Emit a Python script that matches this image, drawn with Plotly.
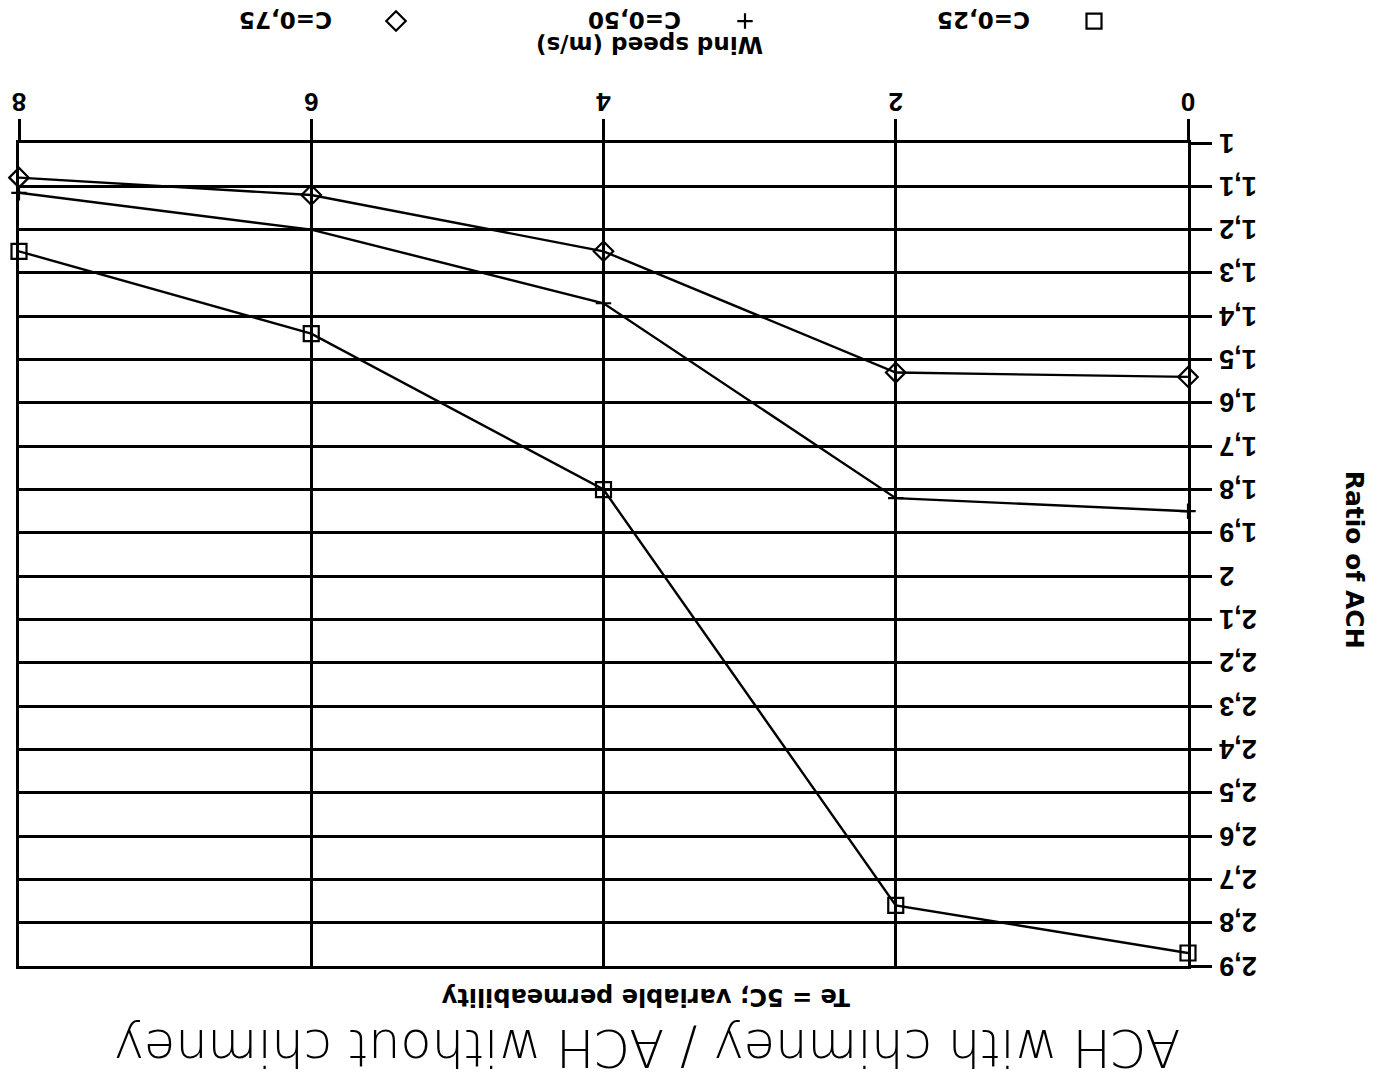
import plotly.graph_objects as go

# ---- data ----
wind_speed = [0, 2, 4, 6, 8]
ratio_c025 = [2.87, 2.76, 1.80, 1.44, 1.25]
ratio_c050 = [1.85, 1.82, 1.37, 1.20, 1.115]
ratio_c075 = [1.54, 1.53, 1.25, 1.12, 1.08]
series_names = ["C=0,25", "C=0,50", "C=0,75"]

x_ticks = [0, 2, 4, 6, 8]
y_tickvals = [1.0, 1.1, 1.2, 1.3, 1.4, 1.5, 1.6, 1.7, 1.8, 1.9, 2.0,
              2.1, 2.2, 2.3, 2.4, 2.5, 2.6, 2.7, 2.8, 2.9]
y_ticktext = ["1", "1,1", "1,2", "1,3", "1,4", "1,5", "1,6", "1,7", "1,8", "1,9", "2",
              "2,1", "2,2", "2,3", "2,4", "2,5", "2,6", "2,7", "2,8", "2,9"]

title_text = "ACH with chimney / ACH without chimney"
subtitle_text = "Te = 5C; variable permeability"
x_title = "Wind speed (m/s)"
y_title = "Ratio of ACH"

BOLD = "DejaVu Sans"
TICKF = "Liberation Sans"

fig = go.Figure()

symbols = [
    dict(symbol="square-open", size=15, line=dict(width=2.2, color="black")),
    dict(symbol="cross-thin-open", size=11, line=dict(width=2.2, color="black")),
    dict(symbol="diamond-open", size=15, line=dict(width=2.2, color="black")),
]
series = [ratio_c025, ratio_c050, ratio_c075]

for name, ys, sym in zip(series_names, series, symbols):
    fig.add_trace(go.Scatter(
        x=wind_speed, y=ys, mode="lines+markers", name=name,
        line=dict(color="black", width=2.4),
        marker=dict(color="black", **sym),
        cliponaxis=False, showlegend=False,
    ))
    # legend-only entry (symbol without line)
    fig.add_trace(go.Scatter(
        x=[None], y=[None], mode="markers", name=name,
        marker=dict(color="black", **sym), showlegend=True,
    ))

fig.update_layout(
    width=1378, height=1077,
    margin=dict(l=190, r=17, t=111, b=143, pad=0),
    paper_bgcolor="white", plot_bgcolor="white",
    separators=",.",
    title=dict(text=title_text, x=731 / 1378, xref="container", xanchor="center",
               y=1 - 29 / 1077, yref="container", yanchor="middle",
               font=dict(family="DejaVu Sans", size=51, color="black", weight=200)),
    legend=dict(orientation="h", xref="container", yref="container",
                x=220 / 1378, xanchor="left", y=1 - 1056 / 1077, yanchor="middle",
                itemwidth=118, entrywidth=216, entrywidthmode="pixels",
                font=dict(family=BOLD, size=23, color="black", weight="bold"),
                bgcolor="rgba(0,0,0,0)", itemclick=False, itemdoubleclick=False),
    xaxis=dict(range=[0, 8], tickvals=x_ticks, ticks="outside", ticklen=21,
               tickwidth=2.8, tickcolor="black", showgrid=True, gridcolor="black",
               gridwidth=2.8, showline=True, linecolor="black", linewidth=2.8,
               mirror=True, zeroline=False, ticklabelstandoff=-5,
               tickfont=dict(family=TICKF, size=26, color="black", weight="bold")),
    yaxis=dict(range=[1, 2.9], tickvals=y_tickvals, ticktext=y_ticktext,
               ticks="outside", ticklen=21, tickwidth=2.8, tickcolor="black",
               showgrid=True, gridcolor="black", gridwidth=2.8, showline=True,
               linecolor="black", linewidth=2.8, mirror=True, zeroline=False,
               ticklabelstandoff=2,
               tickfont=dict(family=TICKF, size=27, color="black", weight="bold")),
    annotations=[
        dict(text=subtitle_text, xref="paper", yref="paper",
             x=(733 - 190) / 1171, y=(934 - 80) / 823, xanchor="center", yanchor="middle",
             showarrow=False, font=dict(family=BOLD, size=24, color="black", weight="bold")),
        dict(text=x_title, xref="paper", yref="paper",
             x=(729 - 190) / 1171, y=(934 - 1032) / 823, xanchor="center", yanchor="middle",
             showarrow=False, font=dict(family=BOLD, size=23, color="black", weight="bold")),
        dict(text=y_title, xref="paper", yref="paper", textangle=-90,
             x=(23 - 190) / 1171, y=(934 - 517) / 823, xanchor="center", yanchor="middle",
             showarrow=False, font=dict(family=BOLD, size=25, color="black", weight="bold")),
    ],
)

# The reference page is printed upside down: rotate the whole figure 180 degrees.
post = (
    "document.body.style.margin='0';"
    "document.body.style.overflow='hidden';"
    "var gd=document.getElementById('{plot_id}');"
    "gd.style.transformOrigin='50% 50%';"
    "gd.style.transform='rotate(180deg)';"
)

fig.write_html("out.html", post_script=post, config={"displayModeBar": False})
